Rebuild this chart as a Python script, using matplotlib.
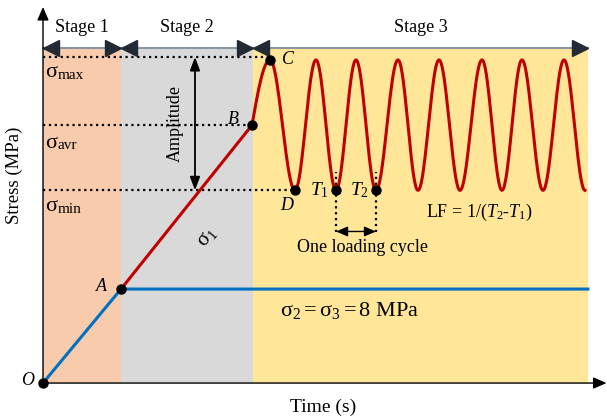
import numpy as np
import matplotlib
matplotlib.use('Agg')
import matplotlib.pyplot as plt

plt.rcParams['font.family'] = ['Liberation Serif', 'DejaVu Serif']
plt.rcParams['mathtext.fontset'] = 'custom'
plt.rcParams['mathtext.rm'] = 'Liberation Serif'
plt.rcParams['mathtext.it'] = 'Liberation Serif:italic'

# stages (time units)
stage_names = ['Stage 1', 'Stage 2', 'Stage 3']
stage_edges = [0.0, 7.8, 21.0, 54.5]
stage_colors = ['#F8CBAD', '#D9D9D9', '#FFE699']
stage_top = 28.5

# stresses (MPa)
sig_max = 27.5
sig_min = 16.4
sig_avr = 21.95
sig_conf = 8.0

# key points
t_A = 7.8
t_B = 20.9
t_C = 22.7
t_D = 25.2
t_T1 = 29.3
t_T2 = 33.3

# extrema of the cyclic loading (after B)
cyc_t = [t_B, t_C, t_D, 27.3, t_T1, 31.3, t_T2, 35.5, 37.5, 39.6, 41.7,
         43.9, 45.9, 47.9, 50.0, 52.1, 54.2]
cyc_s = [sig_avr, sig_max, sig_min, sig_max, sig_min, sig_max, sig_min,
         sig_max, sig_min, sig_max, sig_min, sig_max, sig_min, sig_max,
         sig_min, sig_max, sig_min]

red = '#C00000'
blue = '#0070C0'
dark = '#222A35'

fig = plt.figure(figsize=(6.07, 4.19), dpi=100)
ax = fig.add_axes([0, 0, 1, 1])
ax.set_xlim(-4.3, 56.4)
ax.set_ylim(-3.06, 32.6)
ax.axis('off')

# stage shading + arrows
for i, name in enumerate(stage_names):
    x0, x1 = stage_edges[i], stage_edges[i + 1]
    ax.fill_between([x0, x1], 0, stage_top, color=stage_colors[i], lw=0)
    ax.plot([x0, x1], [stage_top, stage_top], color='#8C96A0', lw=1.5, zorder=3)
    ax.plot(x0 + 0.8, stage_top, marker='<', color=dark, ms=11, zorder=4)
    ax.plot(x1 - 0.8, stage_top, marker='>', color=dark, ms=11, zorder=4)
    ax.text((x0 + x1) / 2, 30.3, name, ha='center', va='center', fontsize=13)

# axes with arrows
ax.annotate('', xy=(0, 32.0), xytext=(0, 0),
            arrowprops=dict(arrowstyle='-|>,head_length=0.8,head_width=0.35',
                            color='black', lw=1.0, shrinkA=0, shrinkB=0), zorder=5)
ax.annotate('', xy=(56.35, 0), xytext=(0, 0),
            arrowprops=dict(arrowstyle='-|>,head_length=0.8,head_width=0.35',
                            color='black', lw=1.0, shrinkA=0, shrinkB=0), zorder=5)
ax.text(-2.9, 17.7, 'Stress (MPa)', rotation=90, ha='center', va='center', fontsize=13.5)
ax.text(28.0, -2.1, 'Time (s)', ha='center', va='center', fontsize=14)

# dotted reference lines
ax.plot([0, t_C], [sig_max + 0.25, sig_max + 0.25], ':', color='black', lw=1.6, zorder=3)
ax.plot([0, t_B], [sig_avr, sig_avr], ':', color='black', lw=1.6, zorder=3)
ax.plot([0, t_D], [sig_min, sig_min], ':', color='black', lw=1.6, zorder=3)
for tt in [t_T1, t_T2]:
    ax.plot([tt, tt], [12.85, 18.0], ':', color='black', lw=1.6, zorder=3)

# stress paths
ax.plot([0, t_A, 54.5], [0, sig_conf, sig_conf], color=blue, lw=2.2, zorder=4)
ax.plot([t_A, t_B], [sig_conf, sig_avr], color=red, lw=2.2, zorder=4)
xs, ys = [], []
for k in range(len(cyc_t) - 1):
    u = np.linspace(0, 1, 40)
    y0, y1 = cyc_s[k], cyc_s[k + 1]
    if k == 0:
        shape = np.sin(np.pi / 2 * u)
    else:
        shape = (1 - np.cos(np.pi * u)) / 2
    xs.extend(cyc_t[k] + (cyc_t[k + 1] - cyc_t[k]) * u)
    ys.extend(y0 + (y1 - y0) * shape)
ax.plot(xs, ys, color=red, lw=2.2, zorder=4)

# points
pts_t = [0, t_A, t_B, t_C, t_D, t_T1, t_T2]
pts_s = [0, sig_conf, sig_avr, sig_max, sig_min, sig_min, sig_min]
ax.plot(pts_t, pts_s, 'o', color='black', ms=6.5, zorder=6, clip_on=False)

lab = dict(fontsize=13, style='italic', ha='center', va='center')
ax.text(-1.5, 0.25, 'O', **lab)
ax.text(5.8, 8.25, 'A', **lab)
ax.text(19.0, 22.4, 'B', **lab)
ax.text(24.5, 27.5, 'C', **lab)
ax.text(24.4, 15.1, 'D', **lab)
ax.text(27.6, 16.4, r'$\mathit{T_1}$', fontsize=14, ha='center', va='center')
ax.text(31.6, 16.4, r'$\mathit{T_2}$', fontsize=14, ha='center', va='center')

# sigma labels
for val, name in [(26.4, 'max'), (20.4, 'avr'), (15.0, 'min')]:
    ax.text(0.2, val, 'σ', fontsize=16, ha='left', va='center')
    ax.text(1.45, val - 0.2, name, fontsize=11, ha='left', va='center')

# amplitude
ax.annotate('', xy=(15.2, sig_max + 0.25), xytext=(15.2, sig_min),
            arrowprops=dict(arrowstyle='<|-|>,head_length=0.8,head_width=0.3',
                            color='black', lw=1.3, shrinkA=0, shrinkB=0), zorder=5)
ax.text(13.2, 22.1, 'Amplitude', rotation=90, ha='center', va='center', fontsize=13)
ax.text(16.4, 12.4, r'$\mathrm{σ_1}$', rotation=50, ha='center', va='center', fontsize=15)

# loading cycle
ax.annotate('', xy=(t_T1, 12.9), xytext=(t_T2, 12.9),
            arrowprops=dict(arrowstyle='<|-|>,head_length=0.7,head_width=0.3',
                            color='black', lw=1.0, shrinkA=0, shrinkB=0), zorder=5)
ax.text(31.9, 11.5, 'One loading cycle', ha='center', va='center', fontsize=13)
ax.text(43.6, 14.5, r'LF = 1/($\mathit{T_2}$-$\mathit{T_1}$)', ha='center', va='center', fontsize=13)
ax.text(30.7, 6.2, r'$\mathrm{σ_2 = σ_3 = 8\ MPa}$', ha='center', va='center', fontsize=16)

fig.savefig('out.png', dpi=100)
